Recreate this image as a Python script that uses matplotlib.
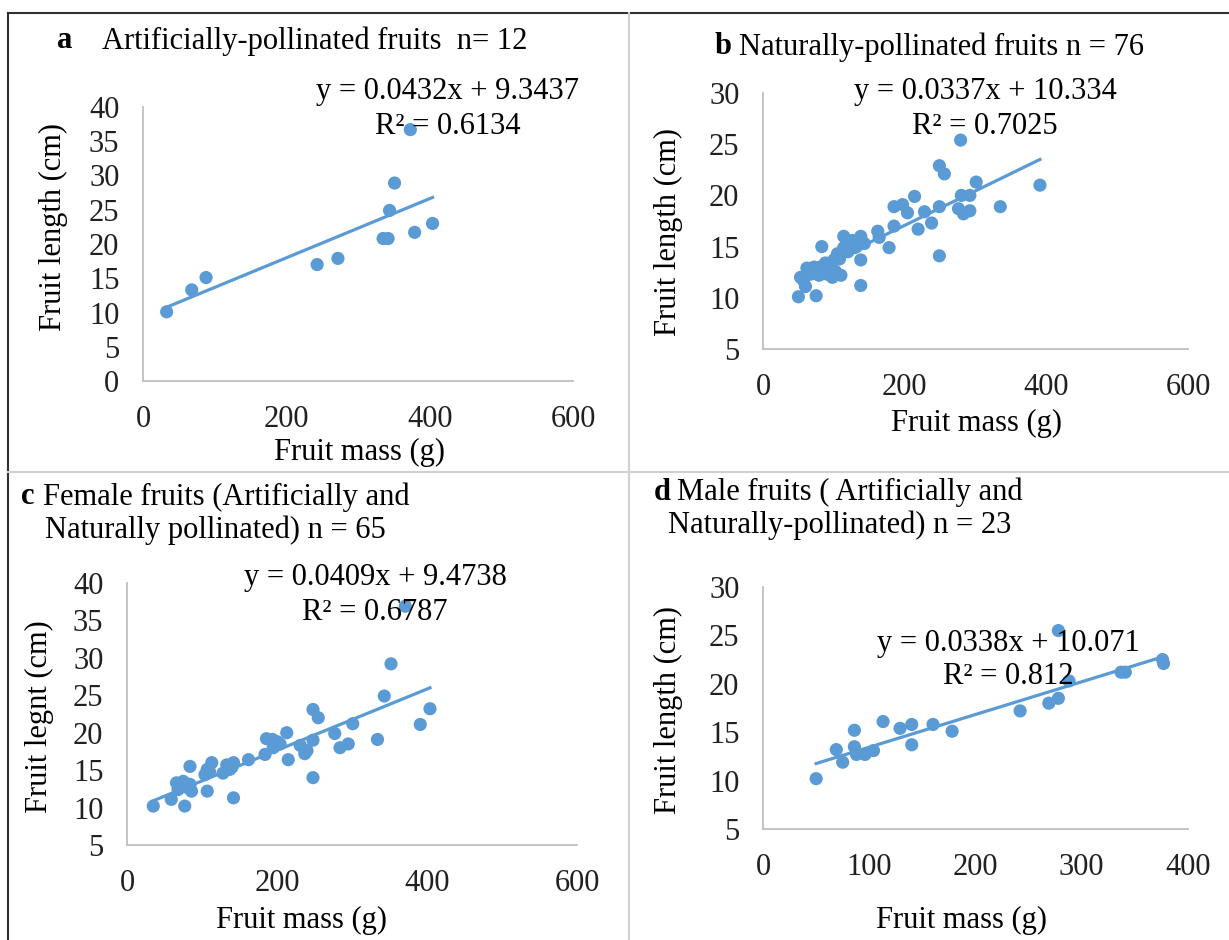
import numpy as np
import matplotlib
matplotlib.use('Agg')
import matplotlib.pyplot as plt
from matplotlib.lines import Line2D

# Data
# a  Artificially-pollinated fruits
mass_a = [33, 68, 88, 243, 272, 335, 342, 344, 351, 373, 379, 404]
len_a = [10.1, 13.3, 15.1, 17.0, 17.9, 20.8, 20.8, 24.9, 28.9, 36.7, 21.7, 23.0]

# b  Naturally-pollinated fruits
mass_b = [249, 256, 301, 335, 280, 292, 283, 292, 276, 249, 214, 185, 197, 204,
          228, 238, 219, 249, 185, 178, 162, 164, 138, 138, 138, 114, 126, 114,
          105, 83, 129, 143, 100, 110, 62, 72, 81, 91, 67, 79, 91, 102, 57, 53,
          60, 50, 75, 279, 391, 70, 85, 95, 75, 88, 120, 132, 108, 66, 98, 118]
len_b = [22.9, 22.1, 21.3, 18.9, 20.0, 20.0, 18.2, 18.5, 18.7, 18.9, 19.9, 18.9,
         19.1, 18.3, 18.4, 17.3, 16.7, 14.1, 17.0, 14.9, 16.5, 15.9, 16.0, 13.7,
         11.2, 16.0, 15.6, 14.9, 14.3, 15.0, 14.9, 15.3, 13.7, 12.2, 12.9, 13.0,
         13.0, 12.9, 12.3, 12.2, 12.3, 12.6, 11.7, 12.0, 11.1, 10.1, 10.2, 25.4,
         21.0, 12.6, 12.5, 13.2, 12.8, 13.4, 14.5, 15.0, 13.8, 12.8, 12.0, 15.2]

# c  Female fruits
mass_c = [371, 352, 343, 404, 391, 334, 301, 295, 284, 35, 59, 77, 66, 75, 84,
          68, 86, 84, 107, 104, 113, 107, 133, 142, 137, 128, 142, 162, 184, 186,
          194, 213, 195, 204, 215, 231, 237, 248, 248, 248, 255, 277, 72, 80,
          110, 140, 200, 240]
len_c = [36.9, 29.2, 24.9, 23.2, 21.1, 19.1, 21.2, 18.5, 18.0, 10.2, 11.1, 10.2,
         13.3, 13.5, 13.1, 12.4, 12.2, 15.5, 12.2, 14.4, 16.0, 15.1, 15.7, 16.0,
         15.1, 14.6, 11.3, 16.4, 17.1, 19.2, 19.1, 20.0, 18.0, 18.5, 16.4, 18.3,
         17.2, 19.0, 14.0, 23.1, 22.0, 19.9, 12.9, 12.7, 14.8, 15.4, 18.8, 17.6]

# d  Male fruits
mass_d = [50, 69, 75, 86, 86, 88, 96, 104, 113, 129, 140, 140, 160, 178, 242,
          269, 278, 278, 288, 337, 341, 377, 376]
len_d = [10.2, 13.2, 11.9, 15.2, 13.5, 12.7, 12.7, 13.1, 16.1, 15.4, 15.8, 13.7,
         15.8, 15.1, 17.2, 18.0, 18.5, 25.5, 20.3, 21.2, 21.2, 22.1, 22.5]

slopes = [0.0432, 0.0337, 0.0409, 0.0338]
intercepts = [9.3437, 10.334, 9.4738, 10.071]
r2_text = ['0.6134', '0.7025', '0.6787', '0.812']

W, H = 1229, 940
blue = '#5B9BD5'
serif = 'Liberation Serif'
fs = 22

plt.rcParams['font.family'] = serif

fig = plt.figure(figsize=(W / 100, H / 100), dpi=100)


def px_axes(x0, y0, x1, y1):
    # pixel box (left, top, right, bottom) -> figure axes
    return fig.add_axes([x0 / W, 1 - y1 / H, (x1 - x0) / W, (y1 - y0) / H])


def ftext(x, y, s, **kw):
    kw.setdefault('fontsize', fs)
    kw.setdefault('va', 'center')
    fig.text(x / W, 1 - y / H, s, **kw)


def panel(ax, mass, length, k, xlim, ylim, xticks, yticks):
    ax.scatter(mass, length, s=90, color=blue, edgecolors='none', zorder=3)
    xx = np.array([min(mass), max(mass)])
    ax.plot(xx, slopes[k] * xx + intercepts[k], color=blue, lw=2.3, zorder=2)
    ax.set_xlim(*xlim)
    ax.set_ylim(*ylim)
    ax.set_xticks(xticks)
    ax.set_yticks(yticks)
    for s in ['top', 'right']:
        ax.spines[s].set_visible(False)
    for s in ['left', 'bottom']:
        ax.spines[s].set_color('#BFBFBF')
        ax.spines[s].set_linewidth(1.3)
    ax.tick_params(length=0, labelsize=fs, colors='#202020')
    ax.tick_params(axis='x', pad=17)
    ax.tick_params(axis='y', pad=17)
    ax.set_facecolor('none')
    ax.patch.set_alpha(0)


ax_a = px_axes(143, 107, 573, 381)
panel(ax_a, mass_a, len_a, 0, (0, 600), (0, 40), [0, 200, 400, 600], range(0, 41, 5))
ax_b = px_axes(763, 93, 1188, 349)
panel(ax_b, mass_b, len_b, 1, (0, 600), (5, 30), [0, 200, 400, 600], range(5, 31, 5))
ax_c = px_axes(127, 583, 577, 845)
panel(ax_c, mass_c, len_c, 2, (0, 600), (5, 40), [0, 200, 400, 600], range(5, 41, 5))
ax_d = px_axes(763, 587, 1188, 829)
panel(ax_d, mass_d, len_d, 3, (0, 400), (5, 30), [0, 100, 200, 300, 400], range(5, 31, 5))

# panel titles
ftext(57, 41, 'a', fontweight='bold')
ftext(102, 41, 'Artificially-pollinated fruits  n= 12')
ftext(715, 47, 'b', fontweight='bold')
ftext(739, 47, 'Naturally-pollinated fruits n = 76')
ftext(21, 497, 'c', fontweight='bold')
ftext(43, 497, 'Female fruits (Artificially and')
ftext(45, 530, 'Naturally pollinated) n = 65')
ftext(654, 492, 'd', fontweight='bold')
ftext(677, 492, 'Male fruits ( Artificially and')
ftext(668, 525, 'Naturally-pollinated) n = 23')

# trendline equations
eq_pos = [(448, 92, 127), (985, 92, 127), (375, 577, 612), (1008, 643, 677)]
for k, (cx, y1, y2) in enumerate(eq_pos):
    ftext(cx, y1, 'y = %sx + %s' % (slopes[k], intercepts[k]), ha='center')
    ftext(cx, y2, 'R\u00b2 = ' + r2_text[k], ha='center')

# axis titles
ftext(53, 227, 'Fruit length (cm)', rotation=90, ha='center')
ftext(359, 452, 'Fruit mass (g)', ha='center')
ftext(668, 232, 'Fruit length (cm)', rotation=90, ha='center')
ftext(977, 423, 'Fruit mass (g)', ha='center')
ftext(39, 717, 'Fruit legnt (cm)', rotation=90, ha='center')
ftext(301, 920, 'Fruit mass (g)', ha='center')
ftext(668, 710, 'Fruit length (cm)', rotation=90, ha='center')
ftext(962, 920, 'Fruit mass (g)', ha='center')

# table borders
def fline(x0, y0, x1, y1, color, lw):
    fig.add_artist(Line2D([x0 / W, x1 / W], [1 - y0 / H, 1 - y1 / H],
                          color=color, lw=lw, transform=fig.transFigure))

fline(8, 13, W, 13, '#303030', 1.5)
fline(8, 13, 8, H, '#303030', 1.5)
fline(629, 13, 629, H, '#D0D0D0', 1.5)
fline(8, 472, W, 472, '#D0D0D0', 1.5)

fig.savefig('out.png', dpi=100)
